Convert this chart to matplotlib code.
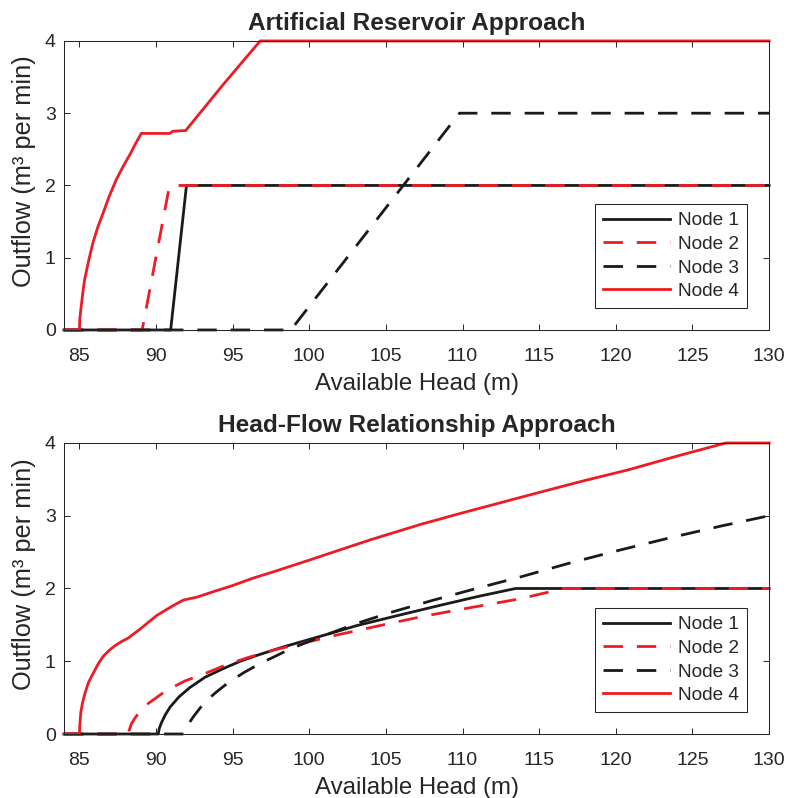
import matplotlib
matplotlib.use('Agg')
import matplotlib.pyplot as plt

plt.rcParams['font.family'] = ['Liberation Sans', 'DejaVu Sans']

# ---- data ----
node_names = ['Node 1', 'Node 2', 'Node 3', 'Node 4']

# Artificial Reservoir Approach
res_n1_x = [84, 90.96, 91.99, 130]
res_n1_y = [0, 0, 2, 2]
res_n2_x = [84, 89.1, 90.85, 91.0, 130]
res_n2_y = [0, 0, 1.96, 2, 2]
res_n3_x = [84, 98.8, 109.8, 130]
res_n3_y = [0, 0, 3, 3]
res_n4_x = [84, 85.01, 85.03, 85.12, 85.22, 85.34, 85.6, 85.88, 86.2, 86.54,
            86.95, 87.41, 87.85, 88.28, 88.65, 89.04,
            90.9, 91.1, 91.94, 94.4, 96.8, 130]
res_n4_y = [0, 0, 0.15, 0.32, 0.50, 0.69, 0.95, 1.20, 1.42, 1.61,
            1.85, 2.08, 2.26, 2.42, 2.57, 2.72,
            2.72, 2.75, 2.76, 3.40, 4.0, 4.0]

# Head-Flow Relationship Approach
hf_n1_x = [84, 90.15, 90.22, 90.37, 90.6, 90.92, 91.5, 92.22, 93.2, 94.4,
           95.5, 96.58, 98.2, 99.85, 101.5, 103.1, 105.8, 108.56, 111.0,
           113.46, 130]
hf_n1_y = [0, 0, 0.08, 0.16, 0.26, 0.37, 0.51, 0.64, 0.78, 0.90,
           1.00, 1.08, 1.19, 1.29, 1.39, 1.49, 1.63, 1.77, 1.89,
           2.0, 2.0]
hf_n2_x = [84, 88.17, 88.4, 88.6, 88.95, 89.5, 90.23, 90.7, 91.9, 93.3,
           94.7, 96.14, 97.8, 99.4, 102.0, 104.6, 107.5, 110.6, 113.8,
           116.6, 130]
hf_n2_y = [0, 0, 0.14, 0.21, 0.31, 0.42, 0.53, 0.60, 0.73, 0.84,
           0.96, 1.06, 1.16, 1.24, 1.37, 1.49, 1.62, 1.74, 1.86,
           2.0, 2.0]
hf_n3_x = [84, 91.81, 92.0, 92.45, 92.85, 93.31, 93.9, 94.62, 95.7, 96.8,
           97.8, 98.76, 100.93, 103.1, 105.3, 108.1, 110.9, 113.8, 117.0,
           120.3, 123.6, 126.9, 130]
hf_n3_y = [0, 0, 0.10, 0.24, 0.35, 0.46, 0.57, 0.69, 0.84, 0.97,
           1.07, 1.17, 1.35, 1.52, 1.67, 1.84, 2.00, 2.16, 2.35,
           2.53, 2.70, 2.86, 3.0]
hf_n4_x = [84, 85.01, 85.03, 85.1, 85.2, 85.37, 85.6, 85.92, 86.25, 86.57,
           86.95, 87.3, 87.75, 88.2, 88.95, 90.06, 91.0, 91.78, 92.2, 92.66,
           93.8, 95.0, 96.3, 97.67, 100.0, 102.0, 104.0, 107.25, 110.0,
           112.5, 115.0, 117.9, 120.8, 124.0, 127.17, 130]
hf_n4_y = [0, 0, 0.12, 0.30, 0.42, 0.56, 0.71, 0.84, 0.97, 1.07,
           1.15, 1.21, 1.27, 1.32, 1.44, 1.63, 1.75, 1.84, 1.86, 1.88,
           1.96, 2.04, 2.14, 2.23, 2.39, 2.53, 2.67, 2.88, 3.04,
           3.18, 3.32, 3.48, 3.63, 3.82, 4.0, 4.0]

x_ticks = [85, 90, 95, 100, 105, 110, 115, 120, 125, 130]
y_ticks = [0, 1, 2, 3, 4]

TEXT = '#262626'
RED = '#ED1C24'
BLACK = '#1A1A1A'
styles = [
    dict(color=BLACK, ls='-'),
    dict(color=RED, ls=(0, (7, 5))),
    dict(color=BLACK, ls=(0, (7, 5))),
    dict(color=RED, ls='-'),
]


def draw_panel(ax, title, series):
    for (xs, ys), name, st in zip(series, node_names, styles):
        ax.plot(xs, ys, color=st['color'], linestyle=st['ls'], lw=2.0,
                label=name, clip_on=False, solid_joinstyle='round')
    ax.set_xlim(84, 130)
    ax.set_ylim(0, 4)
    ax.set_xticks(x_ticks)
    ax.set_yticks(y_ticks)
    ax.tick_params(direction='in', length=4.3, width=0.7, colors=TEXT,
                   labelsize=14, top=True, right=True)
    ax.tick_params(axis='x', pad=13)
    ax.tick_params(axis='y', pad=6)
    for sp in ax.spines.values():
        sp.set_color(TEXT)
        sp.set_linewidth(0.75)
    ax.set_xlabel('Available Head (m)', fontsize=17.3, color=TEXT, labelpad=6)
    ax.set_ylabel('Outflow (m³ per min)', fontsize=18.3, color=TEXT)
    ax.yaxis.set_label_coords(-0.040, 0.55)
    ax.set_title(title, fontsize=17.6, fontweight='bold', color=TEXT, pad=8)
    leg = ax.legend(loc='lower right', fontsize=13.7, handlelength=3.5,
                    handletextpad=0.45, borderpad=0.42, labelspacing=0.33,
                    borderaxespad=1.15, fancybox=False, framealpha=1)
    leg.get_frame().set_edgecolor(TEXT)
    leg.get_frame().set_linewidth(0.75)
    for t in leg.get_texts():
        t.set_color(TEXT)


fig = plt.figure(figsize=(7.87, 7.98), dpi=100)
ax_top = fig.add_axes([0.0813, 0.5865, 0.896, 0.3622])
ax_bot = fig.add_axes([0.0813, 0.0802, 0.896, 0.3647])

draw_panel(ax_top, 'Artificial Reservoir Approach',
           [(res_n1_x, res_n1_y), (res_n2_x, res_n2_y),
            (res_n3_x, res_n3_y), (res_n4_x, res_n4_y)])
draw_panel(ax_bot, 'Head-Flow Relationship Approach',
           [(hf_n1_x, hf_n1_y), (hf_n2_x, hf_n2_y),
            (hf_n3_x, hf_n3_y), (hf_n4_x, hf_n4_y)])

fig.savefig('out.png', dpi=100)
